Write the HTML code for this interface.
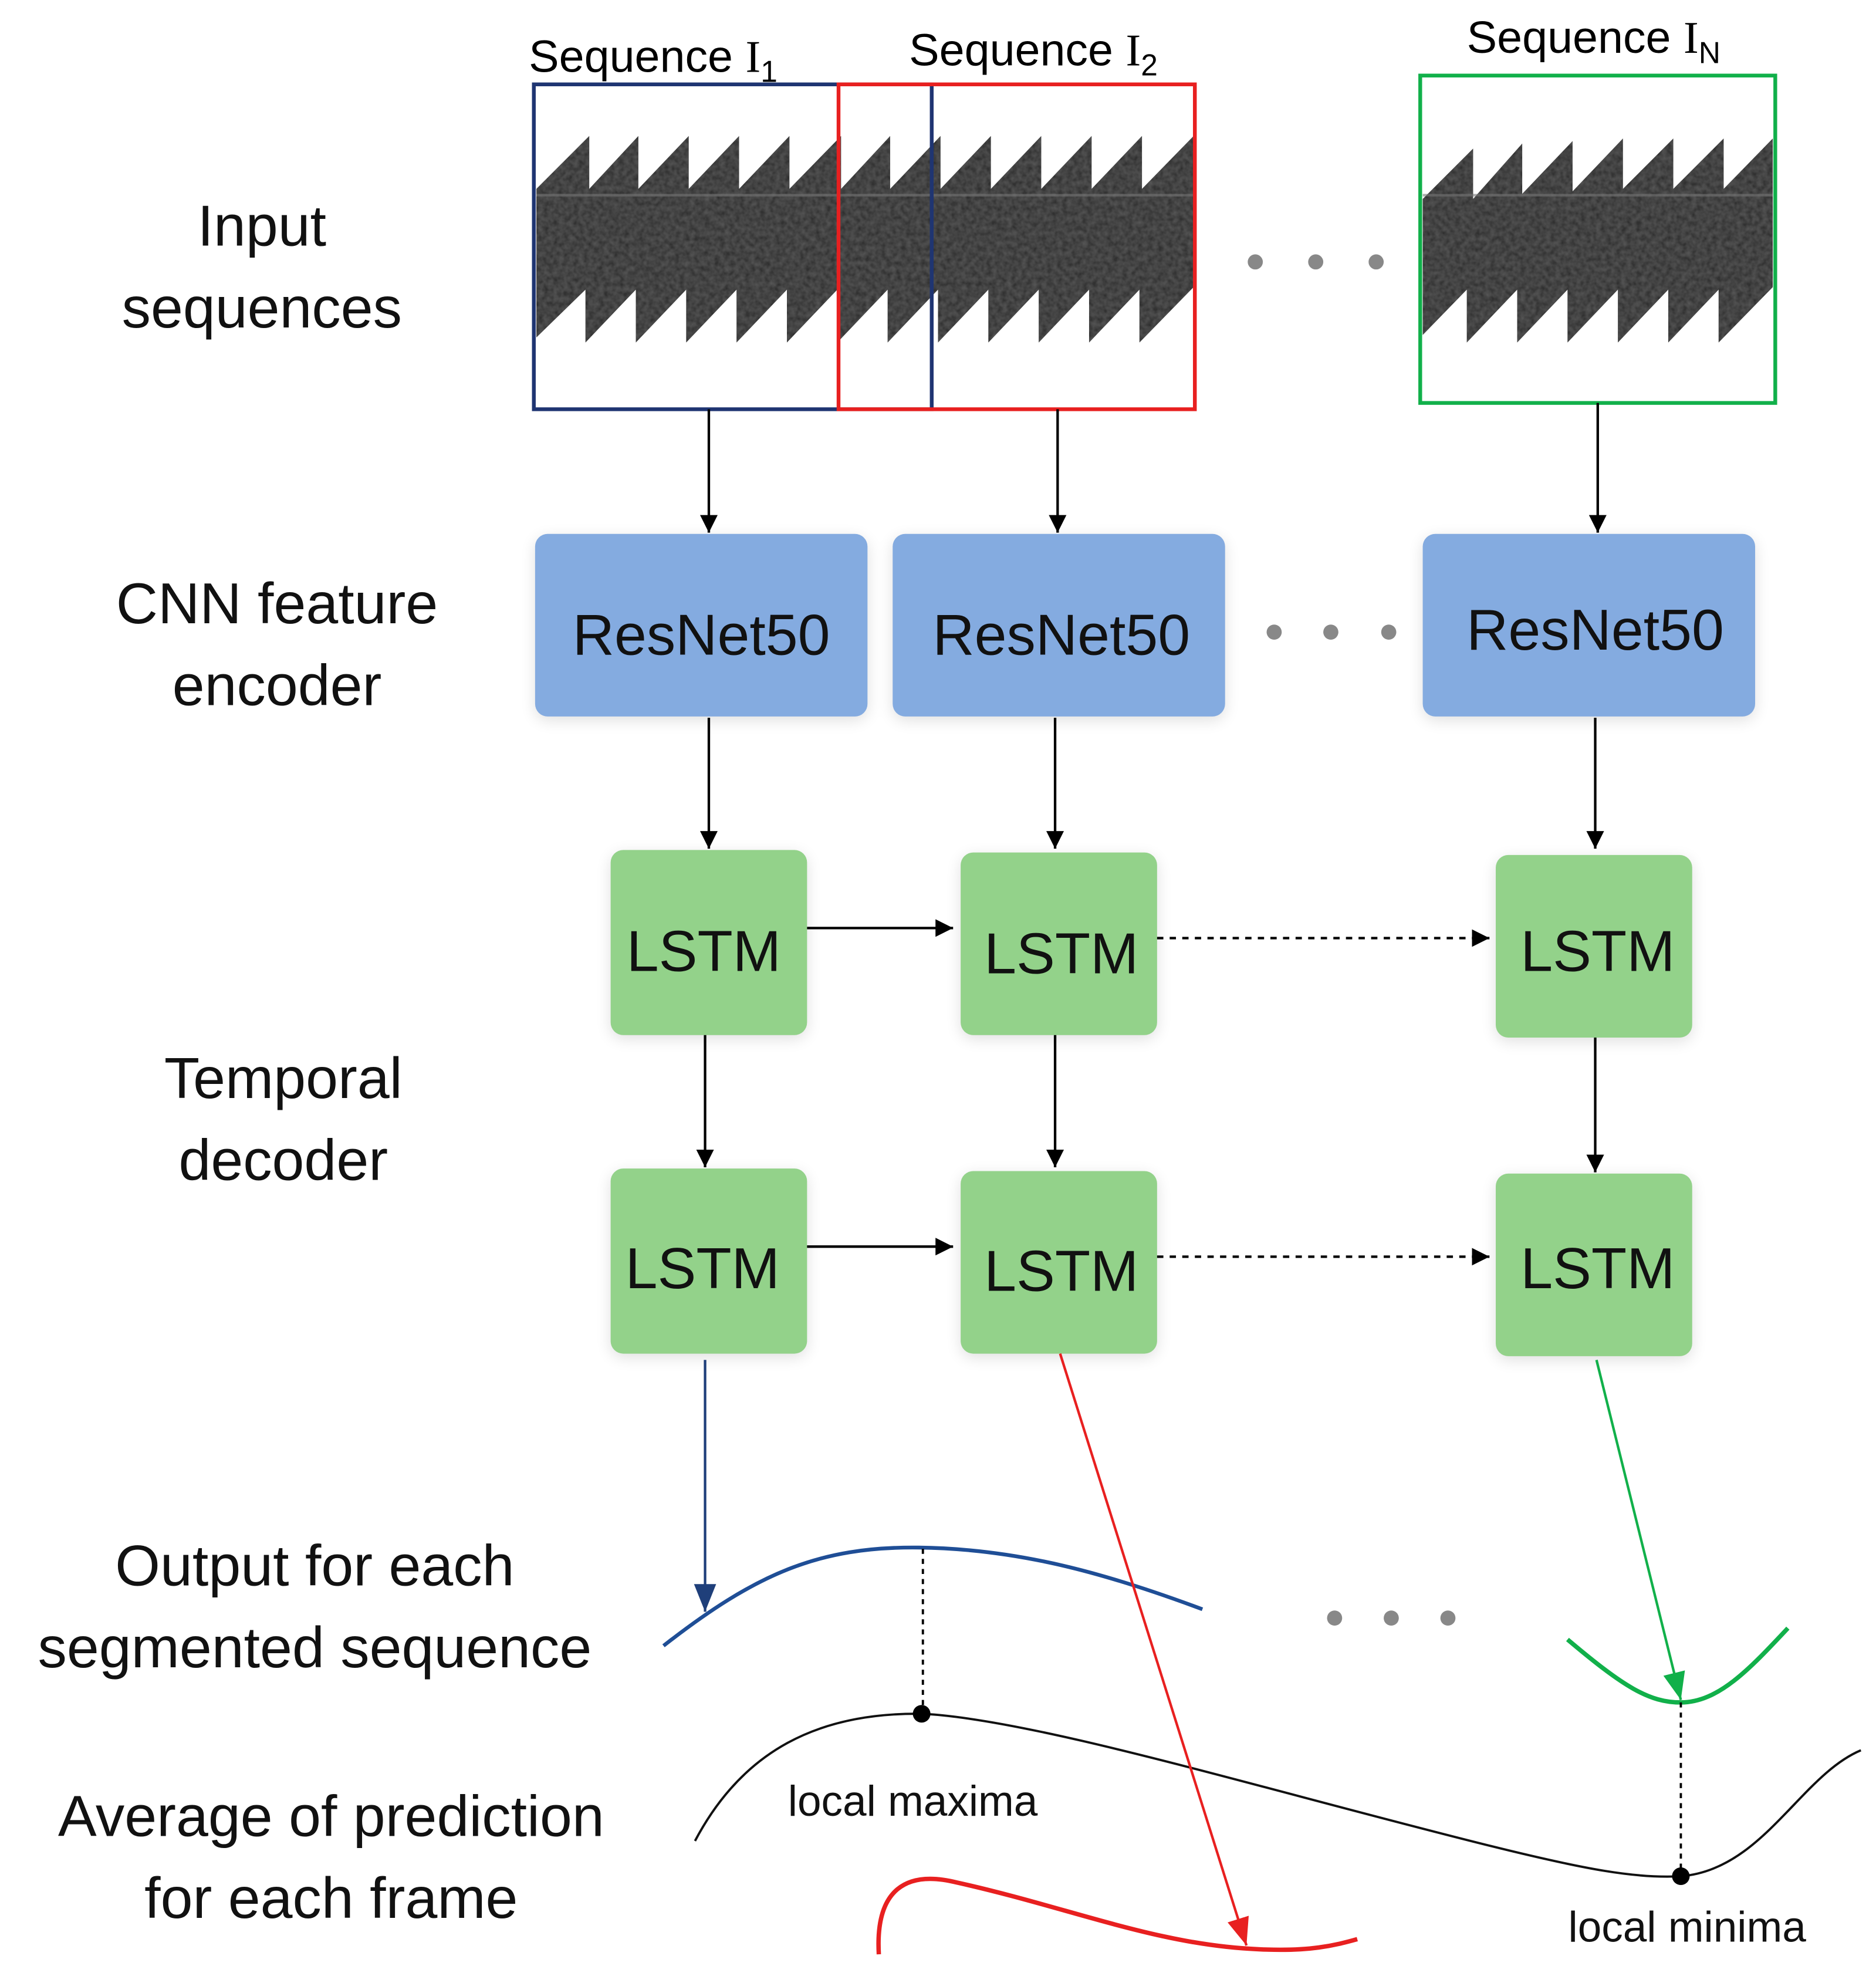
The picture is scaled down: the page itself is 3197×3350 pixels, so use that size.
<!DOCTYPE html>
<html><head><meta charset="utf-8"><style>html,body{margin:0;padding:0;background:#fff}svg{display:block}</style></head>
<body>
<svg xmlns="http://www.w3.org/2000/svg" width="3197" height="3350" viewBox="0 0 1490 1561.3">
<defs>
<filter id="noise" x="0" y="0" width="100%" height="100%">
<feTurbulence type="fractalNoise" baseFrequency="0.25" numOctaves="2" seed="3" result="t"/>
<feColorMatrix in="t" type="matrix" values="0 0 0 0 0.1  0 0 0 0 0.1  0 0 0 0 0.1  0 0 0 1.2 -0.2" result="n"/>
<feComposite in="n" in2="SourceGraphic" operator="in" result="c"/>
<feMerge><feMergeNode in="SourceGraphic"/><feMergeNode in="c"/></feMerge>
</filter>
<filter id="sh" x="-20%" y="-20%" width="140%" height="140%"><feGaussianBlur stdDeviation="6"/></filter>
<marker id="a" viewBox="0 0 10 10" refX="10" refY="5" markerWidth="14" markerHeight="14" markerUnits="userSpaceOnUse" orient="auto"><path d="M0,0L10,5L0,10z" fill="#000"/></marker>
<marker id="ab" viewBox="0 0 10 10" refX="10" refY="5" markerWidth="22" markerHeight="22" markerUnits="userSpaceOnUse" orient="auto"><path d="M0,1L10,5L0,9z" fill="#1f3f7a"/></marker>
<marker id="ar" viewBox="0 0 10 10" refX="10" refY="5" markerWidth="22" markerHeight="22" markerUnits="userSpaceOnUse" orient="auto"><path d="M0,1L10,5L0,9z" fill="#e82020"/></marker>
<marker id="ag" viewBox="0 0 10 10" refX="10" refY="5" markerWidth="22" markerHeight="22" markerUnits="userSpaceOnUse" orient="auto"><path d="M0,1L10,5L0,9z" fill="#11b04a"/></marker>
</defs>

<path filter="url(#noise)" fill="#333" d="M426,190 L426,150 L468,108 L468,150 L507,108 L507,150 L547,108 L547,150 L587,108 L587,150 L627,108 L627,150 L668,108 L668,150 L707,108 L707,150 L747,108 L747,150 L787,108 L787,150 L827,108 L827,150 L867,108 L867,150 L907,108 L907,150 L948,108 L948,228 L905,272 L905,230 L865,272 L865,230 L825,272 L825,230 L785,272 L785,230 L745,272 L745,230 L705,272 L705,230 L665,272 L665,230 L625,272 L625,230 L585,272 L585,230 L545,272 L545,230 L505,272 L505,230 L465,272 L465,230 L426,268 Z"/>
<path filter="url(#noise)" fill="#333" d="M1130,190 L1130,158 L1170,118 L1170,158 L1209,114 L1209,154 L1249,112 L1249,152 L1289,110 L1289,150 L1329,110 L1329,150 L1369,110 L1369,150 L1408,110 L1408,228 L1365,272 L1365,230 L1325,272 L1325,230 L1285,272 L1285,230 L1245,272 L1245,230 L1205,272 L1205,230 L1165,272 L1165,230 L1130,266 Z"/>
<line x1="426" y1="155" x2="948" y2="155" stroke="#777" stroke-width="2" opacity="0.6"/>
<line x1="1130" y1="155" x2="1408" y2="155" stroke="#777" stroke-width="2" opacity="0.6"/>

<rect x="424" y="67" width="316" height="258" fill="none" stroke="#1f3572" stroke-width="3"/>
<rect x="666" y="67" width="283" height="258" fill="none" stroke="#e82020" stroke-width="3"/>
<rect x="1128" y="60" width="282" height="260" fill="none" stroke="#11b04a" stroke-width="3"/>

<g font-family="Liberation Sans, sans-serif" font-size="36" fill="#000">
<text x="420" y="57">Sequence <tspan font-family="Liberation Serif, serif">I</tspan><tspan font-size="24" dy="8">1</tspan></text>
<text x="722" y="52">Sequence <tspan font-family="Liberation Serif, serif">I</tspan><tspan font-size="24" dy="8">2</tspan></text>
<text x="1165" y="42">Sequence <tspan font-family="Liberation Serif, serif">I</tspan><tspan font-size="24" dy="8">N</tspan></text>
</g>

<g fill="#000" opacity="0.12" filter="url(#sh)">
<rect x="425" y="427" width="264" height="145" rx="10"/><rect x="709" y="427" width="264" height="145" rx="10"/><rect x="1130" y="427" width="264" height="145" rx="10"/>
<rect x="485" y="678" width="156" height="147" rx="10"/><rect x="763" y="680" width="156" height="145" rx="10"/><rect x="1188" y="682" width="156" height="145" rx="10"/>
<rect x="485" y="931" width="156" height="147" rx="10"/><rect x="763" y="933" width="156" height="145" rx="10"/><rect x="1188" y="935" width="156" height="145" rx="10"/>
</g>
<g fill="#84abe0">
<rect x="425" y="424" width="264" height="145" rx="10"/><rect x="709" y="424" width="264" height="145" rx="10"/><rect x="1130" y="424" width="264" height="145" rx="10"/>
</g>
<g fill="#93d28a">
<rect x="485" y="675" width="156" height="147" rx="10"/><rect x="763" y="677" width="156" height="145" rx="10"/><rect x="1188" y="679" width="156" height="145" rx="10"/>
<rect x="485" y="928" width="156" height="147" rx="10"/><rect x="763" y="930" width="156" height="145" rx="10"/><rect x="1188" y="932" width="156" height="145" rx="10"/>
</g>
<g font-family="Liberation Sans, sans-serif" font-size="46" fill="#111" text-anchor="middle">
<text x="557" y="520">ResNet50</text><text x="843" y="520">ResNet50</text><text x="1267" y="516">ResNet50</text>
<text x="559" y="771">LSTM</text><text x="843" y="773">LSTM</text><text x="1269" y="771">LSTM</text>
<text x="558" y="1023">LSTM</text><text x="843" y="1025">LSTM</text><text x="1269" y="1023">LSTM</text>
<text x="208" y="195">Input</text><text x="208" y="260">sequences</text>
<text x="220" y="495">CNN feature</text><text x="220" y="560">encoder</text>
<text x="225" y="872">Temporal</text><text x="225" y="937">decoder</text>
<text x="250" y="1259">Output for each</text><text x="250" y="1324">segmented sequence</text>
<text x="263" y="1458">Average of prediction</text><text x="263" y="1523">for each frame</text>
</g>
<g font-family="Liberation Sans, sans-serif" font-size="34" fill="#111" text-anchor="middle">
<text x="725" y="1442">local maxima</text><text x="1340" y="1542">local minima</text>
</g>

<g stroke="#000" stroke-width="2" marker-end="url(#a)" fill="none">
<line x1="563" y1="325" x2="563" y2="423"/><line x1="840" y1="325" x2="840" y2="423"/><line x1="1269" y1="320" x2="1269" y2="423"/>
<line x1="563" y1="570" x2="563" y2="674"/><line x1="838" y1="570" x2="838" y2="674"/><line x1="1267" y1="570" x2="1267" y2="674"/>
<line x1="560" y1="822" x2="560" y2="927"/><line x1="838" y1="822" x2="838" y2="927"/><line x1="1267" y1="824" x2="1267" y2="931"/>
<line x1="641" y1="737" x2="757" y2="737"/><line x1="641" y1="990" x2="757" y2="990"/>
<line x1="919" y1="745" x2="1183" y2="745" stroke-dasharray="5,5"/><line x1="919" y1="998" x2="1183" y2="998" stroke-dasharray="5,5"/>
</g>

<g fill="#888">
<circle cx="997" cy="208" r="6"/><circle cx="1045" cy="208" r="6"/><circle cx="1093" cy="208" r="6"/>
<circle cx="1012" cy="502" r="6"/><circle cx="1057" cy="502" r="6"/><circle cx="1103" cy="502" r="6"/>
<circle cx="1060" cy="1285" r="6"/><circle cx="1105" cy="1285" r="6"/><circle cx="1150" cy="1285" r="6"/>
</g>

<path d="M527,1307 C600,1250 650,1228 730,1229 C810,1230 880,1250 955,1278" fill="none" stroke="#1f4e96" stroke-width="3"/>
<path d="M1245,1302 C1290,1340 1310,1352 1335,1352 C1365,1352 1390,1325 1420,1293" fill="none" stroke="#11b04a" stroke-width="3.5"/>
<path d="M698,1552 C695,1500 720,1485 760,1495 C850,1515 920,1545 1000,1548 C1040,1550 1060,1545 1078,1540" fill="none" stroke="#e82020" stroke-width="3.5"/>
<path d="M552,1462 C590,1390 650,1360 732,1361 C820,1365 1000,1420 1180,1465 C1260,1485 1300,1492 1335,1490 C1400,1485 1430,1410 1478,1390" fill="none" stroke="#111" stroke-width="1.8"/>
<g stroke="#000" stroke-width="1.8" stroke-dasharray="4,4"><line x1="733" y1="1230" x2="733" y2="1360"/><line x1="1335" y1="1352" x2="1335" y2="1490"/></g>
<circle cx="732" cy="1361" r="7" fill="#000"/><circle cx="1335" cy="1490" r="7" fill="#000"/>

<line x1="560" y1="1080" x2="560" y2="1280" stroke="#1f3f7a" stroke-width="2" marker-end="url(#ab)"/>
<line x1="842" y1="1075" x2="990" y2="1545" stroke="#e82020" stroke-width="2" marker-end="url(#ar)"/>
<line x1="1268" y1="1080" x2="1335" y2="1350" stroke="#11b04a" stroke-width="2" marker-end="url(#ag)"/>
</svg>
</body></html>
